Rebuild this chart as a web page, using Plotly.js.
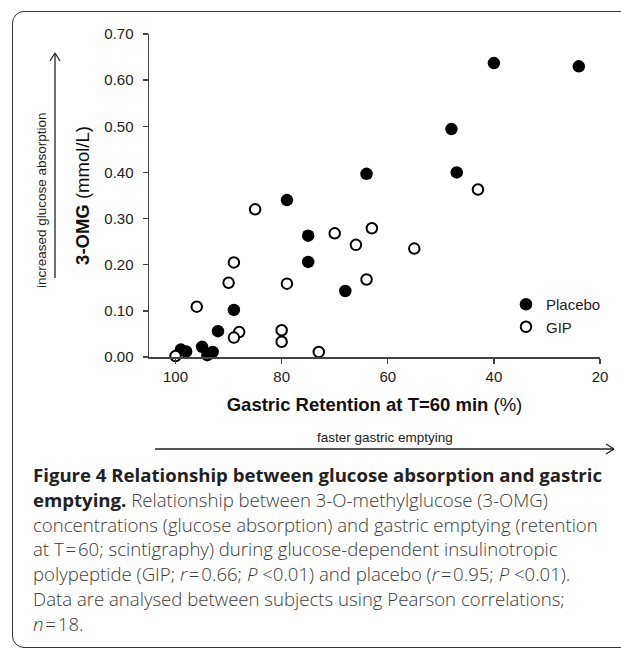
<!DOCTYPE html>
<html>
<head>
<meta charset="utf-8">
<script src="https://cdn.plot.ly/plotly-3.0.1.min.js"></script>
<style>
  html, body { margin: 0; padding: 0; background: #fff; }
  #wrap { position: relative; width: 621px; height: 650px; overflow: hidden; }
  #chart { position: absolute; left: 0; top: 0; width: 621px; height: 650px; }
  #frame { position: absolute; left: 12px; top: 11px; width: 660px; height: 637px;
           border: 1.5px solid #333; border-radius: 12px; pointer-events: none; box-sizing: border-box; }
  #caption { position: absolute; left: 33px; top: 463px; width: 590px;
             font-family: "Open Sans", "Noto Sans", sans-serif; font-size: 18.6px; font-weight: 300;
             line-height: 24.8px; color: #3a3a3a; white-space: nowrap; }
  #caption b { font-weight: 700; color: #222; }
</style>
</head>
<body>
<div id="wrap">
  <div id="chart"></div>
  <div id="frame"></div>
  <div id="caption">
    <b>Figure 4 Relationship between glucose absorption and gastric</b><br>
    <b>emptying.</b> Relationship between 3-O-methylglucose (3-OMG)<br>
    concentrations (glucose absorption) and gastric emptying (retention<br>
    at T&#8202;=&#8202;60; scintigraphy) during glucose-dependent insulinotropic<br>
    polypeptide (GIP; <i>r</i>&#8202;=&#8202;0.66; <i>P</i> &lt;0.01) and placebo (<i>r</i>&#8202;=&#8202;0.95; <i>P</i> &lt;0.01).<br>
    Data are analysed between subjects using Pearson correlations;<br>
    <i>n</i>&#8202;=&#8202;18.
  </div>
</div>
<script>
// ---- data ----
const placeboX = [40, 24, 48, 64, 47, 79, 75, 75, 68, 89, 92, 95, 94, 93, 99, 98];
const placeboY = [0.637, 0.630, 0.494, 0.397, 0.400, 0.340, 0.263, 0.206, 0.143, 0.102, 0.056, 0.022, 0.004, 0.011, 0.016, 0.012];
const gipX = [85, 70, 66, 63, 55, 43, 64, 89, 90, 96, 79, 88, 89, 80, 80, 73, 100];
const gipY = [0.320, 0.268, 0.243, 0.279, 0.235, 0.363, 0.168, 0.205, 0.161, 0.109, 0.159, 0.054, 0.042, 0.058, 0.033, 0.011, 0.002];
const xTicks = [100, 80, 60, 40, 20];
const seriesNames = ["Placebo", "GIP"];

// ---- layout geometry (pixels) ----
const W = 621, H = 650;
const M = {l: 149, r: 21, t: 34, b: 293};
const pw = W - M.l - M.r, ph = H - M.t - M.b;
const px = x => (x - M.l) / pw;
const py = y => (H - M.b - y) / ph;

const axisColor = '#444';
const tickFont = {family: 'Liberation Sans, Arial, sans-serif', size: 15, color: '#222'};

const traces = [
  {x: placeboX, y: placeboY, name: seriesNames[0], type: 'scatter', mode: 'markers',
   marker: {symbol: 'circle', size: 12.5, color: '#000', line: {width: 0}}, cliponaxis: false},
  {x: gipX, y: gipY, name: seriesNames[1], type: 'scatter', mode: 'markers',
   marker: {symbol: 'circle', size: 10.5, color: '#fff', line: {width: 2, color: '#000'}}, cliponaxis: false}
];

function seg(x0, y0, x1, y1) {
  return {type: 'line', xref: 'paper', yref: 'paper', x0: px(x0), y0: py(y0), x1: px(x1), y1: py(y1),
          line: {color: '#222', width: 1.3}};
}

const layout = {
  width: W, height: H,
  margin: M,
  paper_bgcolor: 'rgba(0,0,0,0)', plot_bgcolor: 'rgba(0,0,0,0)',
  showlegend: true,
  legend: {x: px(506), y: py(288), xanchor: 'left', yanchor: 'top',
           font: {family: 'Liberation Sans, Arial, sans-serif', size: 15, color: '#222'},
           bgcolor: 'rgba(0,0,0,0)', tracegroupgap: 0},
  xaxis: {range: [105, 20], tickvals: xTicks, ticks: 'outside', ticklen: 5, tickwidth: 1.3,
          tickcolor: axisColor, showline: true, linecolor: axisColor, linewidth: 1.5,
          showgrid: false, zeroline: false, tickfont: tickFont,
          title: {text: '<b>Gastric Retention at T=60 min</b> (%)', standoff: 14,
                  font: {family: 'Liberation Sans, Arial, sans-serif', size: 18.5, color: '#111'}}},
  yaxis: {range: [0, 0.7], dtick: 0.1, tickformat: '.2f', ticks: 'outside', ticklen: 5, tickwidth: 1.3,
          tickcolor: axisColor, showline: true, linecolor: axisColor, linewidth: 1.5,
          showgrid: false, zeroline: false, tickfont: tickFont, ticklabelstandoff: 6,
          title: {text: '<b>3-OMG</b> (mmol/L)', standoff: 10,
                  font: {family: 'Liberation Sans, Arial, sans-serif', size: 18.5, color: '#111'}}},
  annotations: [
    {xref: 'paper', yref: 'paper', x: px(385), y: py(437), text: 'faster gastric emptying', showarrow: false,
     xanchor: 'center', yanchor: 'middle', font: {family: 'Liberation Sans, Arial, sans-serif', size: 13.5, color: '#222'}},
    {xref: 'paper', yref: 'paper', x: px(42), y: py(200), text: 'increased glucose absorption', showarrow: false,
     textangle: -90, xanchor: 'center', yanchor: 'middle', font: {family: 'Liberation Sans, Arial, sans-serif', size: 13.5, color: '#222'}}
  ],
  shapes: [
    seg(155, 449, 614, 449), seg(606, 444, 614, 449), seg(606, 454, 614, 449),
    seg(55, 278, 55, 53), seg(50, 61, 55, 53), seg(60, 61, 55, 53)
  ]
};

Plotly.newPlot('chart', traces, layout, {displayModeBar: false, staticPlot: true});
</script>
</body>
</html>
